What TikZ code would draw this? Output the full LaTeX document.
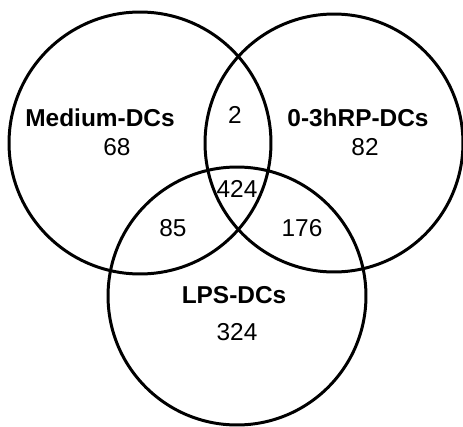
\documentclass[tikz,border=0pt]{standalone}
\usepackage{fontspec}
\setmainfont{Liberation Sans}

\begin{document}
\begin{tikzpicture}[x=0.02cm, y=-0.02cm, font=\fontsize{13.9}{16}\selectfont,
  setcircle/.style={draw, circle, line width=1.7pt, inner sep=0pt}]
  \useasboundingbox (0,0) rectangle (463,426);

  \node[setcircle, minimum size=5.24cm] (medium) at (140,143) {};
  \node[setcircle, minimum size=5.16cm] (rp) at (334,143) {};
  \node[setcircle, minimum size=5.16cm] (lps) at (237,296) {};

  \node (mediumlbl) at (100,117.5) {\textbf{Medium-DCs}};
  \node (mediumnum) at (117,147) {68};
  \node (rplbl) at (358,117.5) {\textbf{0-3hRP-DCs}};
  \node (rpnum) at (365,147) {82};
  \node (lpslbl) at (234,295) {\textbf{LPS-DCs}};
  \node (lpsnum) at (237,332) {324};

  \node (mr) at (235,115) {2};
  \node (ml) at (173,228) {85};
  \node (rl) at (302,228) {176};
  \node (all) at (237,189) {424};
\end{tikzpicture}
\end{document}
